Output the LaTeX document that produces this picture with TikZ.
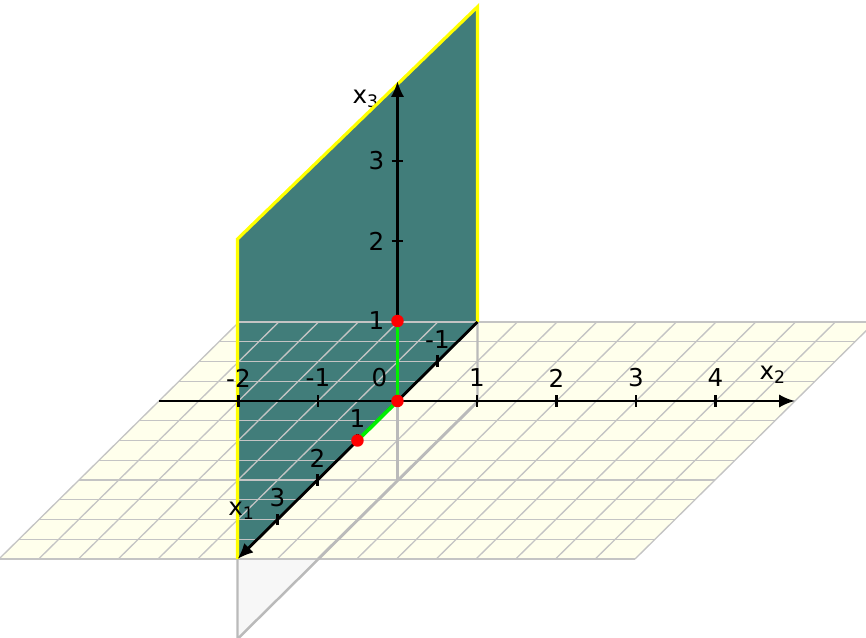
\documentclass[tikz,border=0pt]{standalone}
\usepackage{fontspec}
\setmainfont{DejaVu Sans}
\usetikzlibrary{arrows.meta}
\definecolor{planecol}{RGB}{65,125,122}
\definecolor{groundcol}{RGB}{255,255,236}
\definecolor{gridcol}{RGB}{196,196,196}
\definecolor{lowcol}{RGB}{247,247,247}
\definecolor{greenseg}{RGB}{0,240,0}
\definecolor{yellowedge}{RGB}{255,255,0}
\tikzset{
  gridline/.style={draw=gridcol, line width=0.75pt},
  hiddenline/.style={draw=gridcol!95!black, line width=1.4pt},
  axisline/.style={draw=black, line width=1.6pt},
  axisarrow/.style={axisline, -{Latex[length=9pt,width=7.5pt]}},
  tickmark/.style={draw=black, line width=1.3pt},
  edgeline/.style={draw=yellowedge, line width=1.8pt},
  segline/.style={draw=greenseg, line width=2.1pt},
  reddot/.style={circle, fill=red, inner sep=0pt, minimum size=0.25cm},
  lab/.style={inner sep=0pt, font=\fontsize{14}{16}\selectfont}
}
\begin{document}
\begin{tikzpicture}[x={(-0.8cm,-0.79cm)}, y={(1.59cm,0cm)}, z={(0cm,1.6cm)}]
\useasboundingbox (-7.95cm,-4.74cm) rectangle (9.37cm,8.02cm);
% lower part of the vertical plane (below ground)
\coordinate (L1) at (-2,0,0);
\coordinate (L2) at (-2,0,-1);
\coordinate (L3) at (4,0,-1);
\coordinate (L4) at (4,0,0);
\fill[lowcol] (L1) -- (L2) -- (L3) -- (L4) -- cycle;
% ground plane
\coordinate (G1) at (-2,-3,0);
\coordinate (G2) at (-2,5,0);
\coordinate (G3) at (4,5,0);
\coordinate (G4) at (4,-3,0);
\fill[groundcol] (G1) -- (G2) -- (G3) -- (G4) -- cycle;
% x3 label (partly hidden by the plane)
\node[lab] (lx3) at (0,-0.4,3.78) {x\textsubscript{3}};
% vertical plane
\coordinate (P1) at (-2,0,0);
\coordinate (P2) at (-2,0,3.94);
\coordinate (P3) at (4,0,4);
\coordinate (P4) at (4,0,0);
\fill[planecol] (P1) -- (P2) -- (P3) -- (P4) -- cycle;
% grid
\foreach \a in {-2,-1.5,...,4.1} \draw[gridline] (\a,-3,0) -- (\a,5,0);
\foreach \b in {-3,-2.5,...,5.1} \draw[gridline] (-2,\b,0) -- (4,\b,0);
% hidden edges
\coordinate (O) at (0,0,0);
\coordinate (Od) at (0,0,-1);
\draw[hiddenline] (P1) -- (L2) -- (L3) -- (L4);
\draw[hiddenline] (O) -- (Od);
% yellow edges
\draw[edgeline] (P4) -- (P3) -- (P2) -- (P1);
% axes
\coordinate (X1a) at (-2,0,0);
\coordinate (X1b) at (4,0,0);
\coordinate (X2a) at (0,-3,0);
\coordinate (X2b) at (0,5,0);
\coordinate (X3b) at (0,0,4);
\draw[axisarrow] (X1a) -- (X1b);
\draw[axisarrow] (X2a) -- (X2b);
\draw[axisarrow] (O) -- (X3b);
\foreach \k in {-2,-1,1,2,3,4} \draw[tickmark] (0,\k,-0.075) -- (0,\k,0.075);
\foreach \k in {1,2,3} \draw[tickmark] (0,-0.075,\k) -- (0,0.075,\k);
\foreach \k in {-1,1,2,3} \draw[tickmark] (\k,0,-0.075) -- (\k,0,0.075);
% green segments and red points
\coordinate (Q1) at (1,0,0);
\coordinate (Q3) at (0,0,1);
\draw[segline] (O) -- (Q1);
\draw[segline] (O) -- (Q3);
\node[reddot] (d0) at (O) {};
\node[reddot] (d1) at (Q1) {};
\node[reddot] (d3) at (Q3) {};
% labels x2 axis
\foreach \k in {-2,-1,1,2,3,4} \node[lab] at ([yshift=0.46cm]0,\k,0) {\k};
\node[lab] (l0) at ([xshift=-0.36cm,yshift=0.46cm]O) {0};
\node[lab] (lx2) at ([yshift=0.52cm]0,4.72,0) {x\textsubscript{2}};
% labels x3 axis
\foreach \k in {1,2,3} \node[lab] at ([xshift=-0.42cm]0,0,\k) {\k};
% labels x1 axis
\foreach \k in {-1,1,2,3} \node[lab] at ([yshift=0.44cm]\k,0,0) {\k};
\node[lab] (lx1) at (3.9,0,0.55) {x\textsubscript{1}};
\end{tikzpicture}
\end{document}
